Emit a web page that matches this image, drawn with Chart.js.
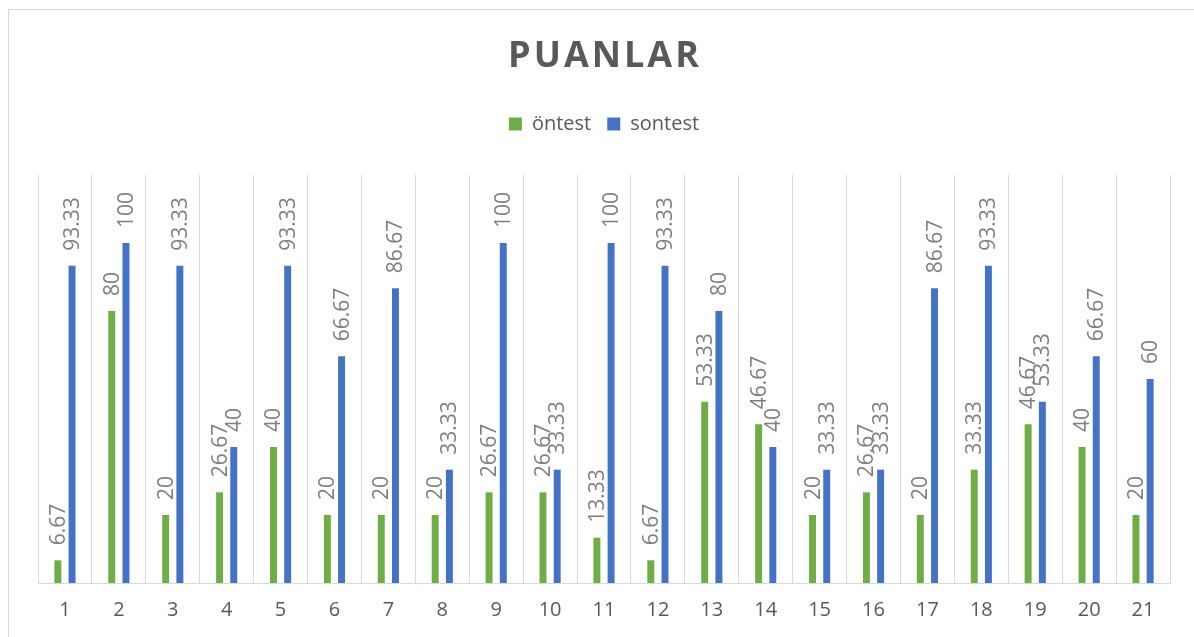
<!DOCTYPE html>
<html lang="tr">
<head>
<meta charset="UTF-8">
<title>PUANLAR</title>
<script src="https://cdn.jsdelivr.net/npm/chart.js"></script>
<style>
  html, body { margin: 0; padding: 0; background: #fff; overflow: hidden; }
  #wrap { position: relative; width: 1194px; height: 637px; }
  #frame { position: absolute; left: 8px; top: 9px; width: 1200px; height: 640px; border: 1px solid #d9d9d9; box-sizing: border-box; }
  canvas { position: absolute; left: 0; top: 0; }
</style>
</head>
<body>
<div id="wrap">
  <div id="frame"></div>
  <canvas id="chart" width="1194" height="637"></canvas>
</div>
<script>
const categories = ['1', '2', '3', '4', '5', '6', '7', '8', '9', '10', '11', '12', '13', '14', '15', '16', '17', '18', '19', '20', '21'];
const ontest = [6.67, 80, 20, 26.67, 40, 20, 20, 20, 26.67, 26.67, 13.33, 6.67, 53.33, 46.67, 20, 26.67, 20, 33.33, 46.67, 40, 20];
const sontest = [93.33, 100, 93.33, 40, 93.33, 66.67, 86.67, 33.33, 100, 33.33, 100, 93.33, 80, 40, 33.33, 33.33, 86.67, 93.33, 53.33, 66.67, 60];
const chartTitle = 'PUANLAR';

const FONT = "'Open Sans', 'Noto Sans', sans-serif";

// rotated value labels above every bar
const barLabels = {
  id: 'barLabels',
  afterDatasetsDraw(chart) {
    const ctx = chart.ctx;
    ctx.save();
    ctx.fillStyle = '#7f7f7f';
    ctx.font = '21px ' + FONT;
    ctx.textAlign = 'left';
    ctx.textBaseline = 'middle';
    chart.data.datasets.forEach((ds, i) => {
      chart.getDatasetMeta(i).data.forEach((bar, j) => {
        ctx.save();
        ctx.translate(bar.x + 1, bar.y - 15);
        ctx.rotate(-Math.PI / 2);
        ctx.fillText(String(ds.data[j]), 0, 0);
        ctx.restore();
      });
    });
    ctx.restore();
  }
};

// spaced-out title
const spacedTitle = {
  id: 'spacedTitle',
  afterDraw(chart) {
    const ctx = chart.ctx;
    ctx.save();
    ctx.fillStyle = '#595959';
    ctx.font = 'bold 36px ' + FONT;
    ctx.letterSpacing = '3px';
    ctx.textAlign = 'center';
    ctx.textBaseline = 'middle';
    ctx.fillText(chartTitle, 605, 57);
    ctx.restore();
  }
};

// extra room under the legend
const legendGap = {
  id: 'legendGap',
  afterInit(chart) {
    const fit = chart.legend.fit;
    chart.legend.fit = function () {
      fit.call(this);
      this.height += 31;
    };
  }
};

new Chart(document.getElementById('chart'), {
  type: 'bar',
  data: {
    labels: categories,
    datasets: [
      { label: 'öntest', data: ontest, backgroundColor: '#70ad47' },
      { label: 'sontest', data: sontest, backgroundColor: '#4472c4' }
    ]
  },
  options: {
    responsive: false,
    animation: false,
    categoryPercentage: 0.527,
    barPercentage: 0.49,
    layout: { padding: { left: 38, right: 24, top: 98, bottom: 0 } },
    plugins: {
      title: { display: false },
      tooltip: { enabled: false },
      legend: {
        position: 'top',
        labels: {
          color: '#595959',
          font: { family: FONT, size: 20 },
          boxWidth: 13,
          boxHeight: 13,
          padding: 16
        }
      }
    },
    scales: {
      x: {
        afterFit(scale) { scale.height = 54; },
        grid: { color: '#d9d9d9', lineWidth: 1, drawTicks: false, offset: true },
        border: { color: '#d9d9d9', width: 1 },
        ticks: { color: '#595959', font: { family: FONT, size: 20 }, padding: 15, maxRotation: 0 }
      },
      y: { display: false, min: 0, max: 120 }
    }
  },
  plugins: [barLabels, spacedTitle, legendGap]
});
</script>
</body>
</html>
